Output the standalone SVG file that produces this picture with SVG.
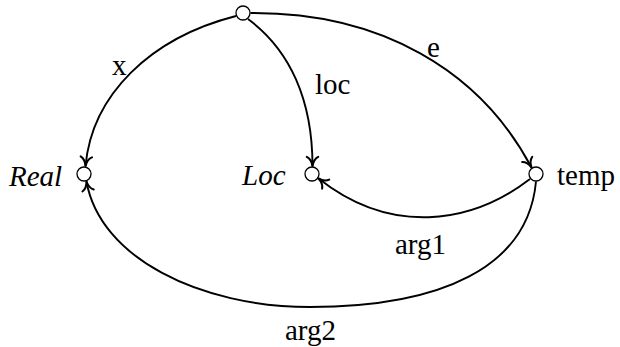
<svg xmlns="http://www.w3.org/2000/svg" width="620" height="347" viewBox="0 0 620 347">
<style>
.node{fill:#fff;stroke:#000;stroke-width:1.3}
.edge{fill:none;stroke:#000;stroke-width:1.9}
.it{font-style:italic}
</style>
<defs>
<marker id="arr" markerUnits="userSpaceOnUse" markerWidth="16" markerHeight="16" refX="0" refY="0" viewBox="-10 -7 12 14" orient="auto">
<path d="M-8,-5 C-6.5,-2 -3,-0.5 0,0 C-3,0.5 -6.5,2 -8,5" fill="none" stroke="#000" stroke-width="1.8" stroke-linecap="round" stroke-linejoin="round"/>
</marker>
</defs>
<g id="connectors">
<path class="edge" marker-end="url(#arr)" d="M236,16 C150,38 92,95 85.5,166"/>
<path class="edge" marker-end="url(#arr)" d="M248,19 C290,50 312.5,100 312.5,166"/>
<path class="edge" marker-end="url(#arr)" d="M250.5,13 C380,12 480,70 531.5,167.5"/>
<path class="edge" marker-end="url(#arr)" d="M530,179 C470,225 390,235 318.5,178.5"/>
<path class="edge" marker-end="url(#arr)" d="M536,181.5 C528,268 440,307 310,307 C200,307 100,258 86.5,181.5"/>
</g>
<g font-family="Liberation Serif, Times New Roman, DejaVu Serif, serif" font-size="29" fill="#000">
<g id="edge-labels">
<text x="112" y="75">x</text>
<text x="315" y="94">loc</text>
<text x="427" y="57">e</text>
<text x="395" y="254">arg1</text>
<text x="285" y="340">arg2</text>
</g>
<g id="node-top"><circle class="node" cx="243" cy="13" r="7"/></g>
<g id="node-real"><circle class="node" cx="84" cy="174" r="7"/><text class="it" x="9" y="186">Real</text></g>
<g id="node-loc"><circle class="node" cx="312" cy="174" r="7"/><text class="it" x="242" y="185">Loc</text></g>
<g id="node-temp"><circle class="node" cx="536" cy="174" r="7"/><text x="557" y="185">temp</text></g>
</g>
</svg>
